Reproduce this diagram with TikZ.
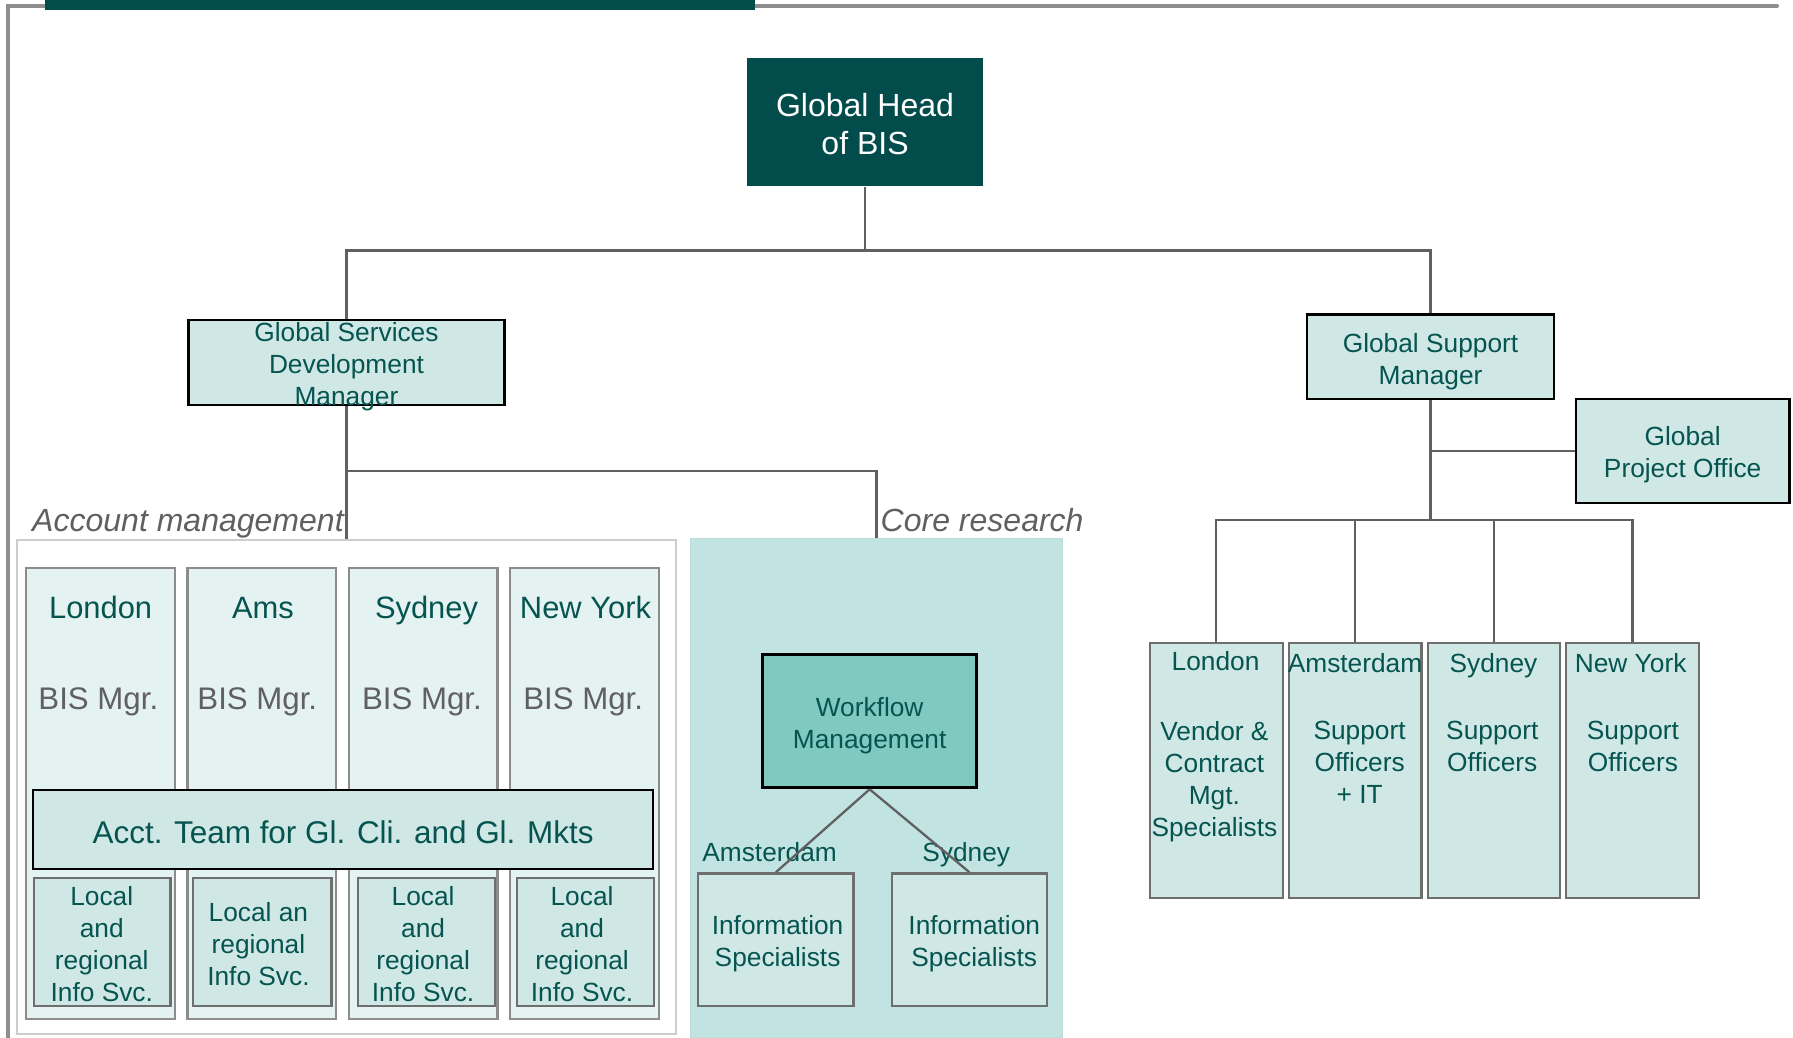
\documentclass[tikz,border=0pt]{standalone}
\usepackage{fontspec}
\setmainfont{Liberation Sans}
\definecolor{darkteal}{RGB}{2,76,76}
\definecolor{textteal}{RGB}{6,84,80}
\definecolor{lightfill}{RGB}{207,232,230}
\definecolor{palefill}{RGB}{228,242,241}
\definecolor{corefill}{RGB}{193,228,226}
\definecolor{wffill}{RGB}{128,201,193}
\definecolor{graytext}{RGB}{96,96,96}
\definecolor{linegray}{RGB}{96,96,96}
\definecolor{framegray}{RGB}{142,142,142}
\definecolor{boxgray}{RGB}{110,110,110}
\definecolor{colgray}{RGB}{140,140,140}
\definecolor{areagray}{RGB}{205,205,205}
\begin{document}
\begin{tikzpicture}[x=1pt,y=-1pt,
  box/.style={draw=black, line width=2.2pt, fill=lightfill, inner sep=0pt},
  gbox/.style={draw=boxgray, line width=2pt, fill=lightfill, inner sep=0pt},
  colbox/.style={draw=colgray, line width=2pt, fill=palefill, inner sep=0pt, minimum width=130pt, minimum height=394pt},
  txt/.style={text=textteal, align=center, inner sep=0pt, font=\fontsize{23}{28}\selectfont},
  hdr/.style={text=textteal, inner sep=0pt, font=\fontsize{27}{32}\selectfont, anchor=base},
  mgr/.style={text=graytext, inner sep=0pt, font=\fontsize{27.3}{32}\selectfont, anchor=base},
  lbl/.style={text=graytext, inner sep=0pt, font=\itshape\fontsize{28}{32}\selectfont, anchor=base west},
  conn/.style={draw=linegray, line width=2pt},
]
\useasboundingbox (0,0) rectangle (1568,907);
% frame
\draw[framegray, line width=3.5pt, line cap=round, line join=miter] (1554,5.2) -- (7.4,5.2) -- (7.4,907);
\fill[darkteal] (39.4,0) rectangle (660.2,8.7);

% top
\node[fill=darkteal, minimum width=207pt, minimum height=112pt, inner sep=0pt] (head) at (756.5,107) {};
\node[txt, text=white, font=\fontsize{28}{34}\selectfont] (headtxt) at (756.5,108.5) {Global Head\\of BIS};

\node[box, minimum width=276pt, minimum height=74pt] (gsdm) at (303,317) {};
\node[txt] (gsdmtxt) at (303,321) {Global Services\\Development\\Manager};

\node[box, minimum width=216pt, minimum height=74pt] (gsm) at (1251,312) {};
\node[txt] (gsmtxt) at (1251,316) {Global Support\\Manager};

\node[box, minimum width=187pt, minimum height=91pt] (gpo) at (1471.5,394.5) {};
\node[txt] (gpotxt) at (1471.5,398) {Global\\Project Office};

% areas
\node[draw=areagray, line width=1.5pt, fill=white, minimum width=576pt, minimum height=432pt, inner sep=0pt] (acct) at (303,688) {};
\node[fill=corefill, draw=corefill!92!gray, line width=1pt, minimum width=325pt, minimum height=436pt, inner sep=0pt] (core) at (766.5,689) {};
\node[lbl] (acctlbl) at (28,465) {Account management};
\node[lbl] (corelbl) at (770,465) {Core research};

% account management columns
\node[colbox] (c1) at (88,694) {};
\node[colbox] (c2) at (229,694) {};
\node[colbox] (c3) at (370,694) {};
\node[colbox] (c4) at (511,694) {};
\node[hdr] (c1h) at (88,540.5) {London};
\node[hdr] (c2h) at (230,540.5) {Ams};
\node[hdr] (c3h) at (373,540.5) {Sydney};
\node[hdr] (c4h) at (512,540.5) {New York};
\node[mgr] (c1m) at (86,620.5) {BIS Mgr.};
\node[mgr] (c2m) at (225,620.5) {BIS Mgr.};
\node[mgr] (c3m) at (369,620.5) {BIS Mgr.};
\node[mgr] (c4m) at (510,620.5) {BIS Mgr.};

\node[box, minimum width=542pt, minimum height=69pt] (team) at (300,725.5) {};
\node[hdr, font=\fontsize{27.5}{32}\selectfont] (teamtxt) at (300,737.5) {Acct. Team for Gl. Cli. and Gl. Mkts};

\node[gbox, minimum width=119pt, minimum height=112pt] (l1) at (89.5,824) {};
\node[gbox, minimum width=121pt, minimum height=112pt] (l2) at (229.5,824) {};
\node[gbox, minimum width=120pt, minimum height=112pt] (l3) at (373,824) {};
\node[gbox, minimum width=120pt, minimum height=112pt] (l4) at (512,824) {};
\node[txt] (l1t) at (89,825.5) {Local\\and\\regional\\Info Svc.};
\node[txt] (l2t) at (226,825.5) {Local an\\regional\\Info Svc.};
\node[txt] (l3t) at (370,825.5) {Local\\and\\regional\\Info Svc.};
\node[txt] (l4t) at (509,825.5) {Local\\and\\regional\\Info Svc.};

% core research
\node[draw=black, line width=2.5pt, fill=wffill, minimum width=187pt, minimum height=117pt, inner sep=0pt] (wf) at (760.5,630.5) {};
\node[txt] (wft) at (760.5,634.5) {Workflow\\Management};
\node[gbox, minimum width=136pt, minimum height=116pt] (is1) at (678.5,821.8) {};
\node[gbox, minimum width=136pt, minimum height=116pt] (is2) at (847.8,821.8) {};
\node[txt] (is1t) at (680,825) {Information\\Specialists};
\node[txt] (is2t) at (852,825) {Information\\Specialists};
\node[txt, anchor=base] (amsl) at (673,753.7) {Amsterdam};
\node[txt, anchor=base] (sydl) at (845,753.7) {Sydney};
\draw[conn] (wf.south) -- (is1.north);
\draw[conn] (wf.south) -- (is2.north);

% support side
\node[gbox, minimum width=116pt, minimum height=223pt] (b1) at (1063.7,673.5) {};
\node[gbox, minimum width=116pt, minimum height=223pt] (b2) at (1185,673.5) {};
\node[gbox, minimum width=116pt, minimum height=223pt] (b3) at (1306.5,673.5) {};
\node[gbox, minimum width=116pt, minimum height=223pt] (b4) at (1427.7,673.5) {};
\node[txt, anchor=base] (b1h) at (1063,586.3) {London};
\node[txt, anchor=base] (b2h) at (1185,588.3) {Amsterdam};
\node[txt, anchor=base] (b3h) at (1306,588.3) {Sydney};
\node[txt, anchor=base] (b4h) at (1426,588.3) {New York};
\node[txt] (b1t) at (1062,684) {Vendor \&\\Contract\\Mgt.\\Specialists};
\node[txt] (b2t) at (1189,667) {Support\\Officers\\+ IT};
\node[txt] (b3t) at (1305,653) {Support\\Officers};
\node[txt] (b4t) at (1428,653) {Support\\Officers};

% connectors
\coordinate (j1) at (756.5,219);
\draw[conn] (head.south) -- (j1) -| (gsdm.north);
\draw[conn] (j1) -| (gsm.north);
\coordinate (j2) at (303,412);
\draw[conn] (gsdm.south) -- (j2) -| (core.north);
\draw[conn] (j2) -- (acct.north);
\coordinate (j4) at (1251,455);
\draw[conn] (gsm.south) -- (j4);
\draw[conn] (gsm.south |- gpo.west) -- (gpo.west);
\draw[conn] (j4) -| (b1.north);
\draw[conn] (j4) -| (b4.north);
\draw[conn] (b2.north |- j4) -- (b2.north);
\draw[conn] (b3.north |- j4) -- (b3.north);
\end{tikzpicture}
\end{document}
